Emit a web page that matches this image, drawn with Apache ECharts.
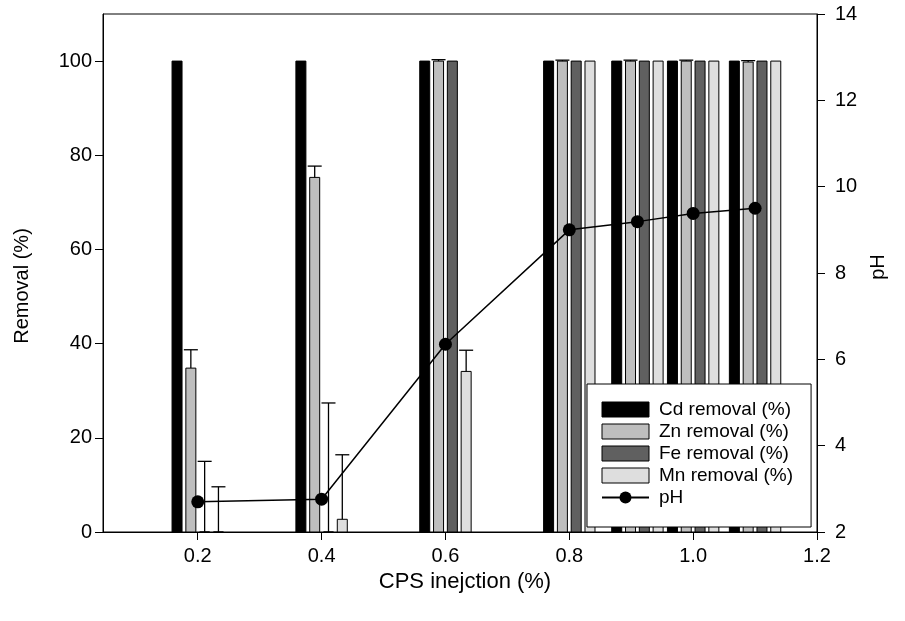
<!DOCTYPE html>
<html><head><meta charset="utf-8">
<script src="https://cdn.jsdelivr.net/npm/echarts@6/dist/echarts.min.js"></script>
<style>html,body{margin:0;padding:0;background:#fff}#c{width:905px;height:621px}</style>
</head><body><div id="c"></div>
<script>
// ---- data ----
const xValues = [0.2, 0.4, 0.6, 0.8, 0.91, 1.0, 1.1];
const cdRemoval = [100, 100, 100, 100, 100, 100, 100];
const cdErr = [0, 0, 0, 0, 0, 0, 0];
const znRemoval = [34.8, 75.3, 100, 100, 100, 100, 99.8];
const znErr = [3.9, 2.4, 0.3, 0.2, 0.2, 0.2, 0.3];
const feRemoval = [0, 0, 100, 100, 100, 100, 100];
const feErr = [15.0, 27.4, 0, 0, 0, 0, 0];
const mnRemoval = [0, 2.7, 34.1, 100, 100, 100, 100];
const mnErr = [9.6, 13.7, 4.5, 0, 0, 0, 0];
const phValues = [2.70, 2.76, 6.35, 9.00, 9.19, 9.38, 9.50];
const xTicks = [0.2, 0.4, 0.6, 0.8, 1.0, 1.2];
const removalTicks = [0, 20, 40, 60, 80, 100];
const seriesNames = ['Cd removal (%)', 'Zn removal (%)', 'Fe removal (%)', 'Mn removal (%)'];

// ---- styles ----
const FONT = 'Liberation Sans';
const barColors = ['#000000', '#bebebe', '#606060', '#dedede'];
const barOffsets = [-20.7, -6.9, 6.9, 20.7]; // px
const BAR_W = 10;

function makeRenderer(idx) {
  return function (params, api) {
    const x = api.value(0), v = api.value(1), e = api.value(2);
    const base = api.coord([x, 0]);
    const top = api.coord([x, v]);
    const cx = base[0] + barOffsets[idx];
    const children = [{
      type: 'rect',
      shape: { x: cx - BAR_W / 2, y: top[1], width: BAR_W, height: base[1] - top[1] },
      style: { fill: barColors[idx], stroke: '#000', lineWidth: 1 }
    }];
    if (e > 0) {
      const et = api.coord([x, v + e]);
      children.push({ type: 'line', shape: { x1: cx, y1: top[1], x2: cx, y2: et[1] }, style: { stroke: '#000', lineWidth: 1.3 } });
      children.push({ type: 'line', shape: { x1: cx - 7, y1: et[1], x2: cx + 7, y2: et[1] }, style: { stroke: '#000', lineWidth: 1.3 } });
    }
    return { type: 'group', children };
  };
}

const valueSets = [cdRemoval, znRemoval, feRemoval, mnRemoval];
const errSets = [cdErr, znErr, feErr, mnErr];

const barSeries = seriesNames.map((name, i) => ({
  name,
  type: 'custom',
  xAxisIndex: 0,
  yAxisIndex: 0,
  renderItem: makeRenderer(i),
  itemStyle: { color: barColors[i], borderColor: '#000', borderWidth: 1 },
  encode: { x: 0, y: 1 },
  data: xValues.map((x, j) => [x, valueSets[i][j], errSets[i][j]]),
  z: 2,
  silent: true
}));

const chart = echarts.init(document.getElementById('c'), null, { renderer: 'canvas' });
chart.setOption({
  animation: false,
  backgroundColor: '#fff',
  textStyle: { fontFamily: FONT, color: '#000' },
  grid: { left: 103, right: 88, top: 14, bottom: 89, show: true, borderColor: '#000', borderWidth: 1, containLabel: false, outerBoundsMode: 'none' },
  legend: {
    orient: 'vertical',
    left: 587, top: 384,
    itemWidth: 47, itemHeight: 15, itemGap: 3,
    padding: [16, 18, 20, 14],
    backgroundColor: '#fff',
    borderColor: '#000', borderWidth: 1, borderRadius: 0,
    textStyle: { fontFamily: FONT, fontSize: 19, color: '#000', padding: [0, 0, 0, 5] },
    data: [
      { name: seriesNames[0], icon: 'rect', itemStyle: { color: barColors[0], borderColor: '#000', borderWidth: 1 } },
      { name: seriesNames[1], icon: 'rect', itemStyle: { color: barColors[1], borderColor: '#000', borderWidth: 1 } },
      { name: seriesNames[2], icon: 'rect', itemStyle: { color: barColors[2], borderColor: '#000', borderWidth: 1 } },
      { name: seriesNames[3], icon: 'rect', itemStyle: { color: barColors[3], borderColor: '#000', borderWidth: 1 } },
      { name: 'pH' }
    ]
  },
  xAxis: {
    type: 'value', min: 0.047, max: 1.2,
    name: 'CPS inejction (%)', nameLocation: 'middle', nameGap: 35,
    nameTextStyle: { fontFamily: FONT, fontSize: 22, color: '#000', padding: [0, 0, 0, 10] },
    axisLine: { show: true, lineStyle: { color: '#000', width: 1 } },
    axisTick: { show: true, length: 8, lineStyle: { color: '#000' }, customValues: xTicks },
    axisLabel: { customValues: xTicks, formatter: v => v.toFixed(1), margin: 14, fontFamily: FONT, fontSize: 20, color: '#000' },
    splitLine: { show: false }
  },
  yAxis: [{
    type: 'value', min: 0, max: 110, position: 'left',
    name: 'Removal (%)', nameLocation: 'middle', nameGap: 71, nameRotate: 90,
    nameTextStyle: { fontFamily: FONT, fontSize: 20, color: '#000', padding: [0, 26, 0, 0] },
    axisLine: { show: true, lineStyle: { color: '#000', width: 1 } },
    axisTick: { show: true, length: 8, lineStyle: { color: '#000' }, customValues: removalTicks },
    axisLabel: { customValues: removalTicks, margin: 11, fontFamily: FONT, fontSize: 20, color: '#000' },
    splitLine: { show: false }
  }, {
    type: 'value', min: 2, max: 14, interval: 2, position: 'right',
    name: 'pH', nameLocation: 'middle', nameGap: 39, nameRotate: 90,
    nameTextStyle: { fontFamily: FONT, fontSize: 20, color: '#000', padding: [0, 0, 0, 12] },
    axisLine: { show: true, lineStyle: { color: '#000', width: 1 } },
    axisTick: { show: true, length: 8, lineStyle: { color: '#000' } },
    axisLabel: { margin: 18, fontFamily: FONT, fontSize: 20, color: '#000' },
    splitLine: { show: false }
  }],
  series: barSeries.concat([{
    name: 'pH',
    type: 'line',
    xAxisIndex: 0,
    yAxisIndex: 1,
    data: xValues.map((x, i) => [x, phValues[i]]),
    symbol: 'circle', symbolSize: 13,
    lineStyle: { color: '#000', width: 1.5 },
    itemStyle: { color: '#000' },
    z: 3,
    silent: true
  }])
});
</script>
</body></html>
